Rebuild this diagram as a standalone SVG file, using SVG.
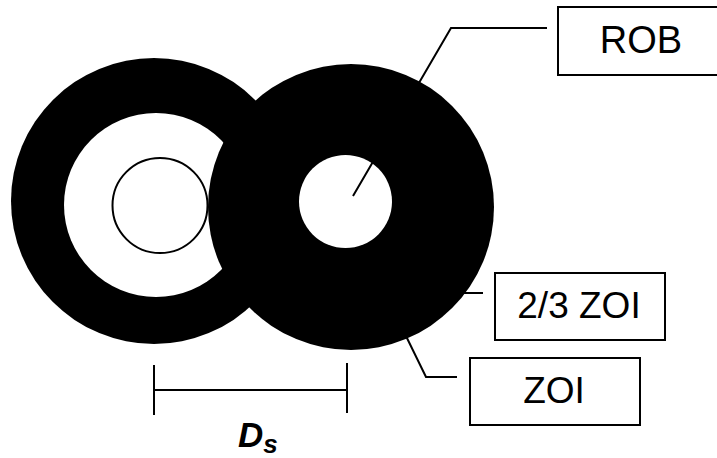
<svg xmlns="http://www.w3.org/2000/svg" width="717" height="458" viewBox="0 0 717 458">
  <style>
    .ring { fill: #000; }
    .hole { fill: #fff; }
    .box { fill: #fff; stroke: #000; stroke-width: 2; }
    .lbl { font-family: "Liberation Sans", Arial, sans-serif; font-size: 37px; fill: #000; text-anchor: middle; }
    .lead { fill: none; stroke: #000; stroke-width: 2; }
  </style>
  <rect width="717" height="458" fill="#fff"/>

  <!-- left zone of influence with its crown -->
  <g id="left-tree">
    <circle class="ring" cx="154" cy="201" r="143"/>
    <circle class="hole" cx="156" cy="205" r="92"/>
    <circle cx="160" cy="205.5" r="47.5" fill="none" stroke="#000" stroke-width="2"/>
  </g>

  <!-- right zone of influence -->
  <g id="right-tree">
    <circle class="ring" cx="351" cy="207" r="143"/>
    <circle class="hole" cx="345.5" cy="201.5" r="46.5"/>
  </g>

  <!-- leader lines and spacing bar -->
  <g id="connectors">
    <polyline class="lead" points="353,196 451,28 547,28"/>
    <line class="lead" x1="460" y1="293" x2="483" y2="293"/>
    <polyline class="lead" points="405,334 426,377 457,377"/>
    <line class="lead" x1="154" y1="365" x2="154" y2="415"/>
    <line class="lead" x1="347" y1="363" x2="347" y2="413"/>
    <line class="lead" x1="154" y1="390" x2="347" y2="390"/>
  </g>

  <g id="label-rob">
    <rect class="box" x="558" y="7" width="170" height="68"/>
    <text class="lbl" x="641" y="53" style="font-size:38px">ROB</text>
  </g>

  <g id="label-23zoi">
    <rect class="box" x="495" y="273" width="170" height="67"/>
    <text class="lbl" x="579" y="318">2/3 ZOI</text>
  </g>

  <g id="label-zoi">
    <rect class="box" x="470" y="358" width="170" height="67"/>
    <text class="lbl" x="554" y="403">ZOI</text>
  </g>

  <g id="label-ds">
    <text x="238" y="447" font-family="Liberation Sans, Arial, sans-serif" font-style="italic" font-weight="bold" font-size="35">D<tspan font-size="26" dy="6">s</tspan></text>
  </g>
</svg>
